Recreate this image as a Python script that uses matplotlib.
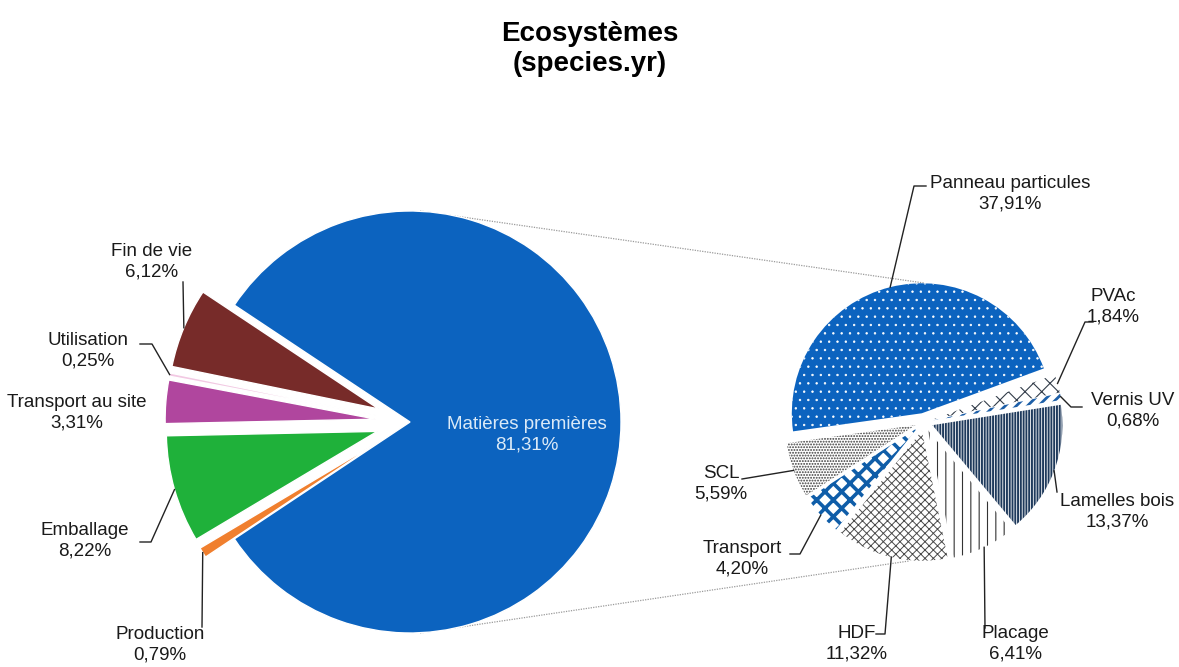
import matplotlib.pyplot as plt
import numpy as np

plt.rcParams['font.family'] = ['Liberation Sans', 'DejaVu Sans']
plt.rcParams['hatch.linewidth'] = 1.0

# cycle de vie complet
etapes = ["Fin de vie", "Utilisation", "Transport au site", "Emballage",
          "Production", "Matières premières"]
parts_etapes = [6.12, 0.25, 3.31, 8.22, 0.79, 81.31]

# détail des matières premières
matieres = ["Panneau particules", "PVAc", "Vernis UV", "Lamelles bois",
            "Placage", "HDF", "Transport", "SCL"]
parts_matieres = [37.91, 1.84, 0.68, 13.37, 6.41, 11.32, 4.20, 5.59]

W, H = 1179, 667


def px(x, y):
    # coordonnées pixel (origine en haut à gauche) -> coordonnées des axes
    return x, H - y


def fmt(v):
    return f"{v:.2f}".replace(".", ",") + "%"


fig = plt.figure(figsize=(W / 100, H / 100), dpi=100)
ax = fig.add_axes([0, 0, 1, 1])

# ---- camembert principal
c1 = px(410, 422)
r1 = 211
petits = sum(parts_etapes[:-1]) / 100 * 360
couleurs1 = ["#772b29", "#f2c9e3", "#b0469e", "#1fb13a", "#f07f2e", "#0c63bf"]
w1, _ = ax.pie(parts_etapes, colors=couleurs1, startangle=180 - petits / 2,
               counterclock=True, explode=[34] * 5 + [0], radius=r1,
               center=c1, wedgeprops=dict(edgecolor="white", linewidth=1.0))

# ---- camembert secondaire
c2 = px(924, 422)
r2 = 130
ex2 = 9
faces = ["#0c63bf", "white", "white", "white", "white", "white", "white", "white"]
hcols = ["white", "#333d4a", "#1d5fa8", "#1f3a5c", "#333333", "#4a4a4a",
         "#0f5da8", "#3a3a3a"]
hatches = ["..", "xx", "///", "||||||", "||", "xxxx", "xx", "......"]
hlw = [0.5, 0.8, 2.0, 1.4, 0.8, 0.7, 2.6, 0.9]
w2, _ = ax.pie(parts_matieres, colors=faces, startangle=188,
               counterclock=False, explode=[ex2] * 8, radius=r2, center=c2,
               wedgeprops=dict(linewidth=0))
for w, hc, ht, lw in zip(w2, hcols, hatches, hlw):
    w.set_edgecolor(hc)
    w.set_hatch(ht)
    if hasattr(w, "set_hatch_linewidth"):
        w.set_hatch_linewidth(lw)

# lignes de liaison entre les deux camemberts
top2 = c2[1] + r2 + ex2
bot2 = c2[1] - r2 - ex2
ax.plot([c1[0] + 10, c2[0]], [c1[1] + r1, top2], color="#9a9a9a", lw=0.9,
        ls=(0, (1, 1)), zorder=0)
ax.plot([c1[0] + 10, c2[0] - 15], [c1[1] - r1, bot2], color="#9a9a9a", lw=0.9,
        ls=(0, (1, 1)), zorder=0)


def ancrage(w):
    # milieu de l'arc d'un secteur
    a = np.deg2rad((w.theta1 + w.theta2) / 2)
    cx, cy = w.center
    return cx + w.r * np.cos(a), cy + w.r * np.sin(a)


def etiquette(w, nom, val, pos, guide):
    ax.text(*px(*pos), f"{nom}\n{fmt(val)}", ha="center", va="center",
            fontsize=13.5, linespacing=1.25, color="#1a1a1a")
    if guide:
        pts = [px(*p) for p in guide] + [ancrage(w)]
        xs, ys = zip(*pts)
        ax.plot(xs, ys, color="#222222", lw=1)


pos1 = [(152, 262), (88, 351), (77, 413), (85, 541), (160, 645)]
guides1 = [[(183, 282)], [(140, 344), (152, 344)], None,
           [(140, 542), (151, 542)], [(202, 627)]]
for w, n, v, p, g in zip(w1, etapes, parts_etapes, pos1, guides1):
    etiquette(w, n, v, p, g)

ax.text(*px(527, 435), f"{etapes[-1]}\n{fmt(parts_etapes[-1])}", ha="center",
        va="center", fontsize=13.5, linespacing=1.25, color="#dbeaf7")

pos2 = [(1010, 194), (1113, 307), (1133, 411), (1117, 512), (1015, 644),
        (857, 644), (742, 559), (721, 484)]
guides2 = [[(926, 186), (914, 186)], [(1093, 322), (1085, 322)],
           [(1082, 407), (1071, 407)], [(1057, 492)], [(985, 628)],
           [(876, 634), (885, 634)], [(790, 554), (800, 554)], [(742, 479)]]
for w, n, v, p, g in zip(w2, matieres, parts_matieres, pos2, guides2):
    etiquette(w, n, v, p, g)

ax.text(*px(590, 49), "Ecosystèmes\n(species.yr)", ha="center", va="center",
        fontsize=20, fontweight="bold", linespacing=1.2)

ax.set_xlim(0, W)
ax.set_ylim(0, H)
ax.set_aspect("equal")
ax.axis("off")

fig.savefig("out.png", dpi=100, facecolor="white")
